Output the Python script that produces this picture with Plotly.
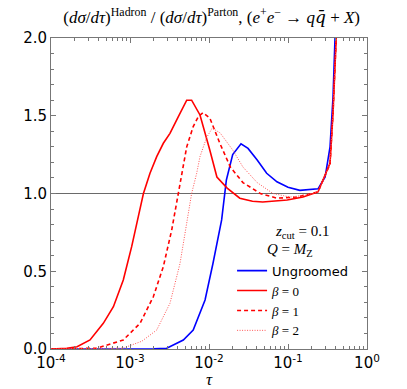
import numpy as np
import plotly.graph_objects as go

# log10(tau) grids and ratio values
ung_logtau = [-4.0, -3.0, -2.7, -2.535, -2.325, -2.20, -2.114, -2.05, -1.95, -1.84, -1.78, -1.70,
              -1.595, -1.506, -1.39, -1.27, -1.14, -1.0, -0.85, -0.62, -0.53, -0.468, -0.43, -0.405]
ung_ratio = [0.0, 0.0, 0.002, 0.005, 0.058, 0.122, 0.23, 0.315, 0.55, 0.83, 1.087, 1.25,
             1.32, 1.29, 1.215, 1.13, 1.075, 1.04, 1.02, 1.03, 1.106, 1.30, 1.62, 2.0]

b0_logtau = [-4.0, -3.8, -3.67, -3.506, -3.338, -3.21, -3.085, -2.979, -2.895, -2.83, -2.747,
             -2.662, -2.578, -2.494, -2.388, -2.282, -2.22, -2.114, -1.99, -1.90, -1.77, -1.61,
             -1.45, -1.32, -1.01, -0.81, -0.62, -0.468, -0.43, -0.39]
b0_ratio = [0.0, 0.004, 0.015, 0.058, 0.165, 0.272, 0.444, 0.658, 0.851, 1.0, 1.13,
            1.237, 1.323, 1.387, 1.494, 1.60, 1.60, 1.505, 1.28, 1.106, 1.035, 0.97,
            0.95, 0.945, 0.958, 0.977, 1.01, 1.196, 1.52, 2.0]

b1_logtau = [-4.0, -3.6, -3.42, -3.085, -2.873, -2.705, -2.578, -2.472, -2.388, -2.282, -2.20,
             -2.135, -2.076, -1.99, -1.86, -1.73, -1.57, -1.35, -1.14, -0.89, -0.62, -0.468,
             -0.43, -0.39]
b1_ratio = [0.0, 0.002, 0.005, 0.058, 0.165, 0.336, 0.53, 0.765, 1.0, 1.30, 1.43,
            1.494, 1.52, 1.486, 1.32, 1.17, 1.07, 1.0, 0.97, 0.977, 1.01, 1.19,
            1.52, 2.0]

b2_logtau = [-4.0, -3.4, -3.09, -2.85, -2.662, -2.494, -2.367, -2.282, -2.22, -2.156, -2.114,
             -2.03, -1.96, -1.86, -1.70, -1.57, -1.39, -1.19, -0.975, -0.77, -0.62, -0.468,
             -0.43, -0.39]
b2_ratio = [0.0, 0.001, 0.005, 0.05, 0.122, 0.294, 0.55, 0.81, 1.0, 1.13, 1.237,
            1.36, 1.42, 1.39, 1.28, 1.17, 1.07, 1.0, 0.977, 0.99, 1.01, 1.19,
            1.52, 2.0]

x_tickvals = [1e-4, 1e-3, 1e-2, 1e-1, 1]
x_ticktext = ["10<sup>-4</sup>", "10<sup>-3</sup>", "10<sup>-2</sup>", "10<sup>-1</sup>", "10<sup>0</sup>"]
y_tickvals = [0.0, 0.5, 1.0, 1.5, 2.0]

SERIF = "Liberation Serif"
SANS = "DejaVu Sans"


def math(s):
    return f"<span style='font-family:{SERIF}'>{s}</span>"


fig = go.Figure()

fig.add_trace(go.Scatter(x=np.power(10.0, ung_logtau), y=ung_ratio, mode="lines",
                         line=dict(color="#0000ff", width=1.6), name="Ungroomed"))
fig.add_trace(go.Scatter(x=np.power(10.0, b0_logtau), y=b0_ratio, mode="lines",
                         line=dict(color="#ff0000", width=1.6), name=math("<i>β</i> = 0")))
fig.add_trace(go.Scatter(x=np.power(10.0, b1_logtau), y=b1_ratio, mode="lines",
                         line=dict(color="#ff0000", width=1.6, dash="4px,3px"), name=math("<i>β</i> = 1")))
fig.add_trace(go.Scatter(x=np.power(10.0, b2_logtau), y=b2_ratio, mode="lines",
                         line=dict(color="#ff5555", width=1.0, dash="1px,1.5px"), name=math("<i>β</i> = 2")))

# reference line at ratio = 1
fig.add_hline(y=1.0, line=dict(color="#444444", width=0.8), layer="below")

axis_common = dict(showline=True, linecolor="#777777", linewidth=1, mirror="ticks",
                   ticks="inside", ticklen=5, tickcolor="#777777", showgrid=False, zeroline=False,
                   automargin=False, tickfont=dict(family=SANS, size=15, color="black"))

fig.update_xaxes(type="log", range=[-4, 0], tickvals=x_tickvals, ticktext=x_ticktext,
                 minor=dict(ticks="inside", ticklen=3, tickcolor="#777777",
                            tickvals=[m * 10.0 ** e for e in range(-4, 0) for m in range(2, 10)]),
                 title=dict(text="<i>τ</i>", font=dict(family=SERIF, size=17, color="black"), standoff=0),
                 **axis_common)
fig.update_yaxes(range=[0, 2], tickvals=y_tickvals, ticktext=["0.0", "0.5", "1.0", "1.5", "2.0"],
                 minor=dict(ticks="inside", ticklen=3, tickcolor="#777777", dtick=0.1),
                 **axis_common)

fig.add_annotation(x=0.794, y=0.376, xref="paper", yref="paper", xanchor="center", yanchor="middle",
                   showarrow=False, text="<i>z</i><sub>cut</sub> = 0.1",
                   font=dict(family=SERIF, size=15, color="black"))
fig.add_annotation(x=0.756, y=0.318, xref="paper", yref="paper", xanchor="center", yanchor="middle",
                   showarrow=False, text="<i>Q</i> = <i>M</i><sub>Z</sub>",
                   font=dict(family=SERIF, size=15, color="black"))

qbar = "<span style='font-family:DejaVu Serif'><i>q\u0304</i></span>"
fig.update_layout(
    width=407, height=389,
    margin=dict(l=51, r=40, t=38, b=40, autoexpand=False),
    paper_bgcolor="white", plot_bgcolor="white",
    title=dict(text=math("(<i>dσ</i>/<i>dτ</i>)<sup>Hadron</sup> / (<i>dσ</i>/<i>dτ</i>)<sup>Parton</sup>, "
                         "(<i>e</i><sup>+</sup><i>e</i><sup>−</sup> → <i>q</i>" + qbar + " + <i>X</i>)"),
               x=0.52, xanchor="center", y=0.955, yanchor="middle",
               font=dict(family=SERIF, size=17, color="black")),
    legend=dict(x=0.573, y=0.30, xanchor="left", yanchor="top", bgcolor="rgba(0,0,0,0)",
                font=dict(family=SANS, size=13, color="black"), tracegroupgap=0),
    showlegend=True,
)

# the page body has a default 8px margin; drop it so the figure fills the window
fig.write_html("out.html", config={"displayModeBar": False},
               post_script="document.body.style.margin='0px';")
